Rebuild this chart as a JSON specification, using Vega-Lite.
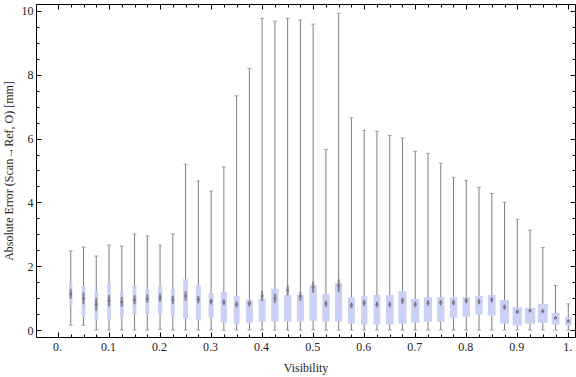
{
  "$schema": "https://vega.github.io/schema/vega-lite/v6.json",
  "width": 539,
  "height": 333,
  "autosize": "none",
  "padding": {"left": 36, "top": 4, "right": 1, "bottom": 40},
  "background": "white",
  "config": {
    "view": {"stroke": "black", "strokeWidth": 1},
    "axis": {
      "labelFont": "Liberation Serif",
      "titleFont": "Liberation Serif",
      "labelFontSize": 12,
      "titleFontSize": 12,
      "titleFontWeight": "normal",
      "labelColor": "#222222",
      "titleColor": "#222222",
      "tickColor": "black",
      "domain": false,
      "grid": false
    }
  },
  "data": {
    "values": [
      {"v": 0.025, "wmin": 0.15, "q1": 0.75, "mean": 1.13, "q3": 1.49, "wmax": 2.48, "clo": 1.00, "chi": 1.26, "n": 33},
      {"v": 0.05, "wmin": 0.15, "q1": 0.40, "mean": 0.99, "q3": 1.38, "wmax": 2.60, "clo": 0.83, "chi": 1.15, "n": 37},
      {"v": 0.075, "wmin": 0.0, "q1": 0.32, "mean": 0.80, "q3": 1.22, "wmax": 2.32, "clo": 0.63, "chi": 0.97, "n": 37},
      {"v": 0.1, "wmin": 0.0, "q1": 0.32, "mean": 0.92, "q3": 1.49, "wmax": 2.66, "clo": 0.77, "chi": 1.07, "n": 37},
      {"v": 0.125, "wmin": 0.0, "q1": 0.39, "mean": 0.88, "q3": 1.22, "wmax": 2.63, "clo": 0.75, "chi": 1.01, "n": 37},
      {"v": 0.15, "wmin": 0.0, "q1": 0.50, "mean": 0.95, "q3": 1.38, "wmax": 3.01, "clo": 0.83, "chi": 1.07, "n": 40},
      {"v": 0.175, "wmin": 0.0, "q1": 0.50, "mean": 0.98, "q3": 1.29, "wmax": 2.95, "clo": 0.88, "chi": 1.08, "n": 40},
      {"v": 0.2, "wmin": 0.02, "q1": 0.50, "mean": 1.01, "q3": 1.38, "wmax": 2.66, "clo": 0.91, "chi": 1.11, "n": 43},
      {"v": 0.225, "wmin": 0.0, "q1": 0.42, "mean": 0.95, "q3": 1.29, "wmax": 3.01, "clo": 0.85, "chi": 1.05, "n": 40},
      {"v": 0.25, "wmin": 0.0, "q1": 0.36, "mean": 1.07, "q3": 1.60, "wmax": 5.20, "clo": 0.95, "chi": 1.19, "n": 50},
      {"v": 0.275, "wmin": 0.0, "q1": 0.32, "mean": 0.95, "q3": 1.41, "wmax": 4.67, "clo": 0.86, "chi": 1.04, "n": 50},
      {"v": 0.3, "wmin": 0.0, "q1": 0.39, "mean": 0.89, "q3": 1.16, "wmax": 4.35, "clo": 0.82, "chi": 0.96, "n": 50},
      {"v": 0.325, "wmin": 0.0, "q1": 0.23, "mean": 0.87, "q3": 1.19, "wmax": 5.11, "clo": 0.80, "chi": 0.94, "n": 63},
      {"v": 0.35, "wmin": 0.0, "q1": 0.20, "mean": 0.80, "q3": 1.07, "wmax": 7.34, "clo": 0.73, "chi": 0.87, "n": 60},
      {"v": 0.375, "wmin": 0.0, "q1": 0.23, "mean": 0.83, "q3": 0.95, "wmax": 8.20, "clo": 0.76, "chi": 0.90, "n": 70},
      {"v": 0.4, "wmin": 0.0, "q1": 0.26, "mean": 1.07, "q3": 0.98, "wmax": 9.77, "clo": 0.93, "chi": 1.21, "n": 70},
      {"v": 0.425, "wmin": 0.0, "q1": 0.26, "mean": 0.99, "q3": 1.29, "wmax": 9.68, "clo": 0.87, "chi": 1.11, "n": 73},
      {"v": 0.45, "wmin": 0.0, "q1": 0.26, "mean": 1.25, "q3": 1.10, "wmax": 9.77, "clo": 1.11, "chi": 1.39, "n": 73},
      {"v": 0.475, "wmin": 0.0, "q1": 0.26, "mean": 1.06, "q3": 1.10, "wmax": 9.72, "clo": 0.94, "chi": 1.18, "n": 70},
      {"v": 0.5, "wmin": 0.0, "q1": 0.29, "mean": 1.34, "q3": 1.41, "wmax": 9.59, "clo": 1.19, "chi": 1.49, "n": 73},
      {"v": 0.525, "wmin": 0.0, "q1": 0.26, "mean": 0.82, "q3": 1.13, "wmax": 5.66, "clo": 0.75, "chi": 0.89, "n": 73},
      {"v": 0.55, "wmin": 0.0, "q1": 0.26, "mean": 1.39, "q3": 1.47, "wmax": 9.93, "clo": 1.21, "chi": 1.57, "n": 73},
      {"v": 0.575, "wmin": 0.0, "q1": 0.20, "mean": 0.77, "q3": 1.03, "wmax": 6.65, "clo": 0.71, "chi": 0.83, "n": 70},
      {"v": 0.6, "wmin": 0.0, "q1": 0.17, "mean": 0.85, "q3": 1.07, "wmax": 6.26, "clo": 0.78, "chi": 0.92, "n": 63},
      {"v": 0.625, "wmin": 0.0, "q1": 0.17, "mean": 0.80, "q3": 1.10, "wmax": 6.23, "clo": 0.74, "chi": 0.86, "n": 67},
      {"v": 0.65, "wmin": 0.0, "q1": 0.17, "mean": 0.80, "q3": 1.10, "wmax": 6.10, "clo": 0.74, "chi": 0.86, "n": 75},
      {"v": 0.675, "wmin": 0.0, "q1": 0.20, "mean": 0.92, "q3": 1.22, "wmax": 6.02, "clo": 0.85, "chi": 0.99, "n": 80},
      {"v": 0.7, "wmin": 0.0, "q1": 0.23, "mean": 0.80, "q3": 0.97, "wmax": 5.60, "clo": 0.74, "chi": 0.86, "n": 83},
      {"v": 0.725, "wmin": 0.0, "q1": 0.26, "mean": 0.85, "q3": 1.03, "wmax": 5.54, "clo": 0.79, "chi": 0.91, "n": 83},
      {"v": 0.75, "wmin": 0.0, "q1": 0.26, "mean": 0.86, "q3": 1.03, "wmax": 5.23, "clo": 0.80, "chi": 0.92, "n": 73},
      {"v": 0.775, "wmin": 0.0, "q1": 0.39, "mean": 0.86, "q3": 1.03, "wmax": 4.79, "clo": 0.80, "chi": 0.92, "n": 73},
      {"v": 0.8, "wmin": 0.0, "q1": 0.42, "mean": 0.92, "q3": 1.03, "wmax": 4.69, "clo": 0.86, "chi": 0.98, "n": 73},
      {"v": 0.825, "wmin": 0.0, "q1": 0.48, "mean": 0.89, "q3": 1.07, "wmax": 4.47, "clo": 0.83, "chi": 0.95, "n": 73},
      {"v": 0.85, "wmin": 0.0, "q1": 0.45, "mean": 0.95, "q3": 1.10, "wmax": 4.28, "clo": 0.89, "chi": 1.01, "n": 77},
      {"v": 0.875, "wmin": 0.0, "q1": 0.20, "mean": 0.72, "q3": 0.94, "wmax": 4.00, "clo": 0.67, "chi": 0.77, "n": 90},
      {"v": 0.9, "wmin": 0.0, "q1": 0.14, "mean": 0.57, "q3": 0.72, "wmax": 3.47, "clo": 0.53, "chi": 0.61, "n": 93},
      {"v": 0.925, "wmin": 0.0, "q1": 0.20, "mean": 0.61, "q3": 0.69, "wmax": 3.13, "clo": 0.58, "chi": 0.64, "n": 105},
      {"v": 0.95, "wmin": 0.0, "q1": 0.23, "mean": 0.59, "q3": 0.82, "wmax": 2.59, "clo": 0.56, "chi": 0.62, "n": 100},
      {"v": 0.975, "wmin": 0.0, "q1": 0.17, "mean": 0.38, "q3": 0.53, "wmax": 1.40, "clo": 0.36, "chi": 0.40, "n": 80},
      {"v": 1.0, "wmin": 0.0, "q1": 0.14, "mean": 0.28, "q3": 0.41, "wmax": 0.82, "clo": 0.26, "chi": 0.30, "n": 63}
    ]
  },
  "layer": [
    {
      "mark": {"type": "rule", "color": "#808080", "strokeWidth": 1},
      "encoding": {
        "x": {"field": "v", "type": "quantitative", "scale": {"domain": [-0.0333, 1.0033], "nice": false, "zero": false},
          "axis": {"orient": "bottom", "values": [0, 0.1, 0.2, 0.3, 0.4, 0.5, 0.6, 0.7, 0.8, 0.9, 1], "labelExpr": "datum.value == 0 ? '0.' : (datum.value == 1 ? '1.' : format(datum.value, '.1f'))", "tickSize": -5, "labelPadding": 9, "labelOffset": -1, "title": "Visibility", "titlePadding": 10, "labelFlush": false}},
        "y": {"field": "wmin", "type": "quantitative", "scale": {"domain": [-0.219, 10.219], "nice": false, "zero": false},
          "axis": {"orient": "left", "values": [0, 2, 4, 6, 8, 10], "tickSize": -5, "labelPadding": 8, "title": "Absolute Error (Scan\u2192Ref, O) [mm]", "titlePadding": 6, "labelFlush": false}},
        "y2": {"field": "wmax"}
      }
    },
    {
      "mark": {"type": "bar", "color": "#cad1f5"},
      "encoding": {
        "x": {"field": "v", "type": "quantitative",
          "axis": {"orient": "top", "values": [0, 0.1, 0.2, 0.3, 0.4, 0.5, 0.6, 0.7, 0.8, 0.9, 1], "labels": false, "tickSize": -5, "title": null}},
        "y": {"field": "q1", "type": "quantitative",
          "axis": {"orient": "right", "values": [0, 2, 4, 6, 8, 10], "labels": false, "tickSize": -5, "title": null}},
        "y2": {"field": "q3"},
        "size": {"field": "n", "type": "quantitative", "scale": {"domain": [0, 100], "range": [0, 10]}, "legend": null}
      }
    },
    {
      "mark": {"type": "tick", "orient": "horizontal", "color": "#808080", "size": 4, "thickness": 1},
      "encoding": {
        "x": {"field": "v", "type": "quantitative",
          "axis": {"orient": "bottom", "values": [0, 0.025, 0.05, 0.075, 0.1, 0.125, 0.15, 0.175, 0.2, 0.225, 0.25, 0.275, 0.3, 0.325, 0.35, 0.375, 0.4, 0.425, 0.45, 0.475, 0.5, 0.525, 0.55, 0.575, 0.6, 0.625, 0.65, 0.675, 0.7, 0.725, 0.75, 0.775, 0.8, 0.825, 0.85, 0.875, 0.9, 0.925, 0.95, 0.975, 1], "labels": false, "tickSize": -3, "title": null}},
        "y": {"field": "wmax", "type": "quantitative",
          "axis": {"orient": "left", "values": [0, 0.5, 1, 1.5, 2, 2.5, 3, 3.5, 4, 4.5, 5, 5.5, 6, 6.5, 7, 7.5, 8, 8.5, 9, 9.5, 10], "labels": false, "tickSize": -3, "title": null}}
      }
    },
    {
      "mark": {"type": "tick", "orient": "horizontal", "color": "#808080", "size": 4, "thickness": 1},
      "encoding": {
        "x": {"field": "v", "type": "quantitative",
          "axis": {"orient": "top", "values": [0, 0.025, 0.05, 0.075, 0.1, 0.125, 0.15, 0.175, 0.2, 0.225, 0.25, 0.275, 0.3, 0.325, 0.35, 0.375, 0.4, 0.425, 0.45, 0.475, 0.5, 0.525, 0.55, 0.575, 0.6, 0.625, 0.65, 0.675, 0.7, 0.725, 0.75, 0.775, 0.8, 0.825, 0.85, 0.875, 0.9, 0.925, 0.95, 0.975, 1], "labels": false, "tickSize": -3, "title": null}},
        "y": {"field": "wmin", "type": "quantitative",
          "axis": {"orient": "right", "values": [0, 0.5, 1, 1.5, 2, 2.5, 3, 3.5, 4, 4.5, 5, 5.5, 6, 6.5, 7, 7.5, 8, 8.5, 9, 9.5, 10], "labels": false, "tickSize": -3, "title": null}}
      }
    },
    {
      "mark": {"type": "rule", "color": "#858590", "strokeWidth": 2, "strokeCap": "round"},
      "encoding": {
        "x": {"field": "v", "type": "quantitative", "axis": null},
        "y": {"field": "clo", "type": "quantitative", "axis": null},
        "y2": {"field": "chi"}
      }
    },
    {
      "mark": {"type": "point", "shape": "diamond", "filled": true, "color": "#7a7a80", "size": 14, "opacity": 1},
      "encoding": {
        "x": {"field": "v", "type": "quantitative", "axis": null},
        "y": {"field": "mean", "type": "quantitative", "axis": null}
      }
    }
  ]
}
